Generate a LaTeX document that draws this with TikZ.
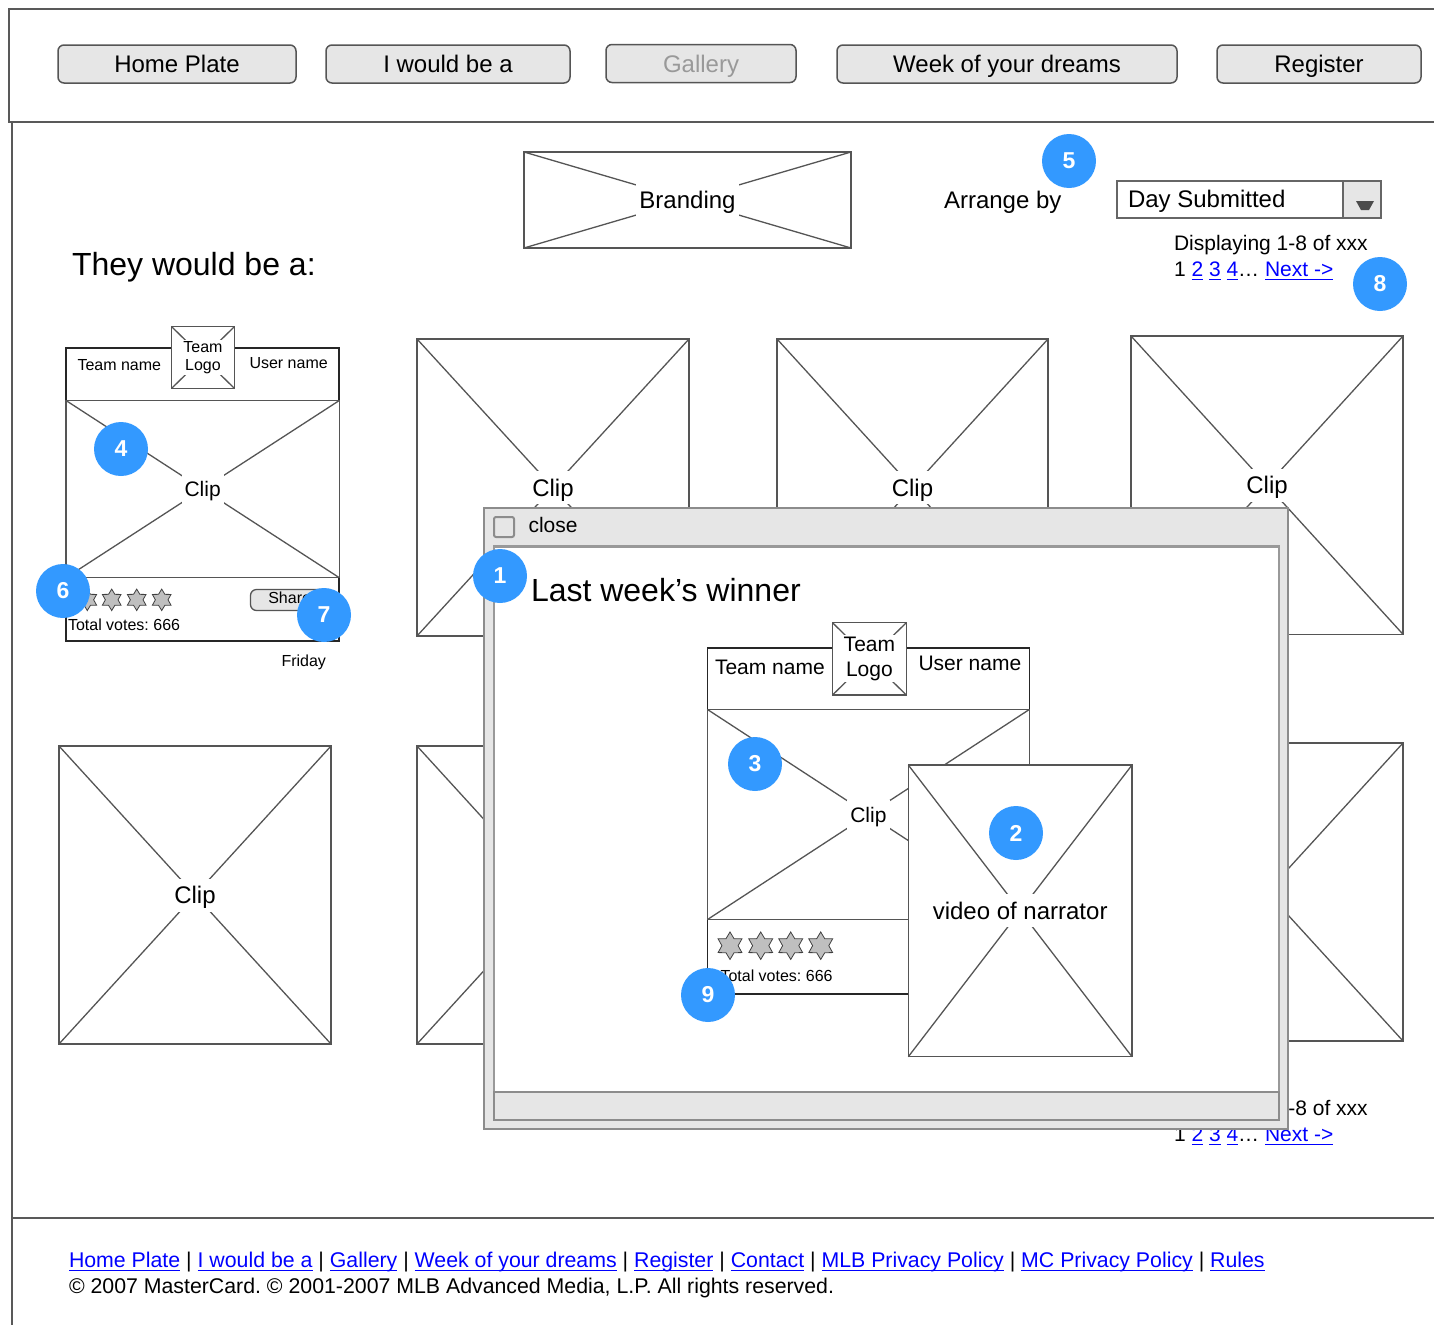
\documentclass[tikz,border=0pt]{standalone}
\usepackage{fontspec}
\setmainfont{Liberation Sans}
\usetikzlibrary{shapes.geometric}
\definecolor{linkblue}{HTML}{0000FF}
\definecolor{badgeblue}{HTML}{3399FF}
\definecolor{ln}{HTML}{555555}
\definecolor{btn}{HTML}{E6E6E6}
\newsavebox\lnkbox
\newcommand\lnk[1]{\textcolor{linkblue}{\sbox\lnkbox{#1}\rlap{\rule[-3.4pt]{\wd\lnkbox}{1.2pt}}\usebox\lnkbox}}
% wireframe placeholder box: name, x1, y1, x2, y2, label, label style
\newcommand\wfbox[7]{%
  \node[wframe, minimum width={#4-#2}, minimum height={#5-#3}] (#1) at (#2,#3) {};
  \draw[xline] (#1.north west) -- (#1.south east) (#1.north east) -- (#1.south west);
  \if\relax\detokenize{#6}\relax\else
    \node[#7] (#1-lab) at (#1.center) {#6};
  \fi
}
\begin{document}
\frenchspacing
\begin{tikzpicture}[x=1pt,y=-1pt,
  txt/.style={inner sep=0pt, outer sep=0pt, anchor=base west},
  f32/.style={font=\fontsize{32}{38}\selectfont},
  f24/.style={font=\fontsize{24}{29}\selectfont},
  f21/.style={font=\fontsize{21}{25}\selectfont},
  ffoot/.style={font=\fontsize{21.3}{25}\selectfont},
  f16/.style={font=\fontsize{16}{18.5}\selectfont},
  pageline/.style={draw=black!65, line width=2pt},
  navbtn/.style={draw=ln, fill=btn, rounded corners=6pt, line width=1.5pt, minimum height=38pt, inner sep=0pt, text height=17pt, text depth=0pt, font=\fontsize{24}{29}\selectfont},
  wframe/.style={draw=ln, fill=white, line width=1.5pt, inner sep=0pt, outer sep=0pt, anchor=north west},
  cardframe/.style={wframe, draw=black!85, line width=1.8pt},
  xline/.style={draw=ln, line width=1.3pt},
  lab24/.style={fill=white, inner sep=3pt, font=\fontsize{24}{29}\selectfont, text height=22pt, text depth=5pt},
  lab21/.style={fill=white, inner sep=3pt, font=\fontsize{21}{25}\selectfont, text height=19.5pt, text depth=4.5pt},
  logo16/.style={fill=white, inner sep=1.5pt, align=center, font=\fontsize{16}{18.5}\selectfont},
  logo21/.style={fill=white, inner sep=1.5pt, align=center, font=\fontsize{21}{25}\selectfont},
  badge/.style={circle, fill=badgeblue, text=white, minimum size=54pt, inner sep=0pt, font=\bfseries\fontsize{23}{28}\selectfont},
  starA/.style={star, star points=6, star point ratio=1.7, draw=black!75, fill=black!25, line width=0.8pt, minimum size=21.5pt, inner sep=0pt},
  starB/.style={starA, minimum size=27.5pt},
  sharebtn/.style={draw=ln, fill=btn, rounded corners=6pt, line width=1.3pt, inner sep=0pt, outer sep=0pt, anchor=north west, minimum width=82pt, minimum height=21pt},
]
\useasboundingbox (0,0) rectangle (1434,1325);
\fill[white] (0,0) rectangle (1434,1325);

% ---------- page frame ----------
\draw[pageline] (1434,8.5) -- (9,8.5) -- (9,122) -- (1434,122);
\draw[pageline] (11.5,122) -- (11.5,1325);
\draw[pageline] (11.5,1218) -- (1434,1218);

% ---------- navigation ----------
\node[navbtn, minimum width=238pt] (nav1) at (177,64) {Home Plate};
\node[navbtn, minimum width=244pt] (nav2) at (448,64) {I would be a};
\node[navbtn, minimum width=190pt, text=black!40] (nav3) at (701,63.5) {Gallery};
\node[navbtn, minimum width=340pt] (nav4) at (1007,64) {Week of your dreams};
\node[navbtn, minimum width=204pt] (nav5) at (1319,64) {Register};

% ---------- branding / sorting ----------
\wfbox{brand}{524}{152}{851}{248}{Branding}{lab24}
\node[txt, f24] (arr) at (944,208.5) {Arrange by};
\node[wframe, draw=black!60, minimum width=264pt, minimum height=37pt] (dd) at (1117,181) {};
\node[wframe, draw=black!60, fill=btn, minimum width=38pt, minimum height=37pt] (ddb) at (1343,181) {};
\fill[black!70] (1356,201) -- (1374,201) -- (1369,210) -- (1361,210) -- cycle;
\node[txt, f24] (ddt) at (1128,207.3) {Day Submitted};
\node[txt, f21] (disp1) at (1174,250.7) {Displaying 1-8 of xxx};
\node[txt, f21] (pg1) at (1174,276.7) {1 \lnk{2} \lnk{3} \lnk{4}… \lnk{Next ->}};
\node[txt, f32] (title) at (72,275.5) {They would be a:};

% ---------- card 1 ----------
\node[cardframe, minimum width=273pt, minimum height=293pt] (card1) at (66,348.3) {};
\wfbox{c1clip}{66}{400.5}{339.3}{577.7}{Clip}{lab21}
\wfbox{c1logo}{171.7}{326.7}{234.3}{388.3}{Team\\Logo}{logo16}
\node[txt, f16] (c1team) at (77.5,370) {Team name};
\node[txt, f16] (c1user) at (249.5,368.3) {User name};
\foreach \i/\x in {1/87.3,2/111.7,3/136.7,4/161.7}
  \node[starA] (c1s\i) at (\x,599.8) {};
\node[sharebtn] (share) at (250.5,589.5) {};
\node[txt, f16] (sharet) at (268.3,603.3) {Share};
\node[txt, f16] (c1votes) at (68,630.7) {Total votes: 666};
\node[txt, f16] (friday) at (281.5,666.7) {Friday};

% ---------- gallery placeholders ----------
\wfbox{g2}{417}{339}{689}{636}{Clip}{lab24}
\wfbox{g3}{777}{339}{1048}{636}{Clip}{lab24}
\wfbox{g4}{1131}{336}{1403}{634.3}{Clip}{lab24}
\wfbox{g5}{59}{746}{331}{1044}{Clip}{lab24}
\wfbox{g6}{417}{746}{689}{1044}{}{lab24}
\wfbox{g7}{777}{746}{1048}{1044}{}{lab24}
\wfbox{g8}{1131}{743}{1403}{1041}{}{lab24}

% lower pagination (mostly hidden)
\node[txt, f21] (disp2) at (1174,1115.7) {Displaying 1-8 of xxx};
\node[txt, f21] (pg2) at (1174,1141.7) {1 \lnk{2} \lnk{3} \lnk{4}… \lnk{Next ->}};

% ---------- footer ----------
\node[txt, ffoot] (foot) at (69,1267.3) {\lnk{Home Plate} | \lnk{I would be a} | \lnk{Gallery} | \lnk{Week of your dreams} | \lnk{Register} | \lnk{Contact} | \lnk{MLB Privacy Policy} | \lnk{MC Privacy Policy} | \lnk{Rules}};
\node[txt, ffoot] (copy) at (69,1293.3) {© 2007 MasterCard. © 2001-2007 MLB Advanced Media, L.P. All rights reserved.};

% ---------- badges on page ----------
\node[badge] (b4) at (121,449) {4};
\node[badge] (b6) at (63,591) {6};
\node[badge] (b7) at (324,615) {7};
\node[badge] (b5) at (1069,161) {5};
\node[badge] (b8) at (1380,284) {8};

% ---------- popup ----------
\node[wframe, draw=black!45, fill=btn, line width=2pt, minimum width=804pt, minimum height=621pt] (pop) at (484,508) {};
\node[wframe, draw=black!40, line width=2.5pt, minimum width=785pt, minimum height=546pt] (popin) at (494,546.5) {};
\node[wframe, draw=black!45, fill=btn, line width=2pt, minimum width=785pt, minimum height=27.5pt] (popbar) at (494,1092) {};
\node[wframe, draw=black!45, fill=btn, rounded corners=2pt, line width=2pt, minimum width=20pt, minimum height=20pt] (chk) at (494,517) {};
\node[txt, f21] (close) at (528.5,532.8) {close};
\node[txt, f32] (winner) at (531,601) {Last week’s winner};

% popup card
\node[cardframe, minimum width=322pt, minimum height=346.3pt] (card2) at (707.5,647.7) {};
\wfbox{c2clip}{707.5}{709.5}{1029.3}{919.5}{Clip}{lab21}
\wfbox{c2logo}{832.5}{622.7}{906.3}{695}{Team\\Logo}{logo21}
\node[txt, f21] (c2team) at (715,674) {Team name};
\node[txt, f21] (c2user) at (918.5,670.7) {User name};
\foreach \i/\x in {1/730,2/760.7,3/790.7,4/820.7}
  \node[starB] (c2s\i) at (\x,945.7) {};
\node[txt, f16] (c2votes) at (720.5,981.7) {Total votes: 666};
\wfbox{video}{908.3}{765}{1132}{1056.7}{video of narrator}{lab24}

% popup badges
\node[badge] (b1) at (500,576) {1};
\node[badge] (b3) at (755,764) {3};
\node[badge] (b2) at (1016,833) {2};
\node[badge] (b9) at (708,995) {9};
\end{tikzpicture}
\end{document}
